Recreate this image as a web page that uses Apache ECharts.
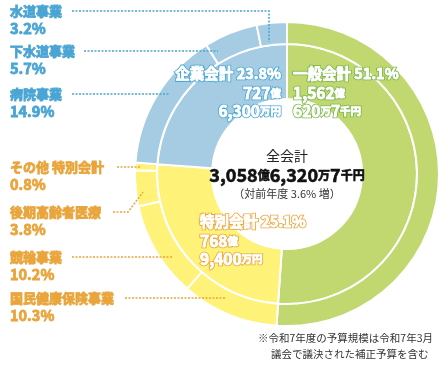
<!DOCTYPE html>
<html><head><meta charset="utf-8">
<script src="https://cdn.jsdelivr.net/npm/echarts@6/dist/echarts.min.js"></script>
<style>html,body{margin:0;padding:0;background:#fff}#c{width:445px;height:366px}</style>
</head><body><div id="c"></div>
<script>
// ---- data ----
var mainNames = ['一般会計', '特別会計', '企業会計'];
var mainPercents = [51.1, 25.1, 23.8];
var mainOku = ['1,562', '768', '727'];
var mainMan = [['620', '万', '7', '千円'], ['9,400', '万円'], ['6,300', '万円']];
var subNames = ['一般会計', '国民健康保険事業', '競輪事業', '後期高齢者医療', 'その他 特別会計', '病院事業', '下水道事業', '水道事業'];
var subPercents = [51.1, 10.3, 10.2, 3.8, 0.8, 14.9, 5.7, 3.2];
var subGroup = [0, 1, 1, 1, 1, 2, 2, 2];
var totalParts = ['3,058', '億', '6,320', '万', '7', '千円'];
var changeText = '（対前年度 3.6% 増）';
var noteLines = ['※令和7年度の予算規模は令和7年3月', '議会で議決された補正予算を含む'];

var fills = ['#c1d871', '#fef278', '#a5cce3'];
var textCols = ['#7ab648', '#e9a53c', '#4aa5d4'];
var FONT = '"Noto Sans CJK JP", "Noto Sans", sans-serif';
var C = [287, 174];

var chart = echarts.init(document.getElementById('c'), null, {renderer: 'canvas'});

var graphics = [];
function txt(x, y, text, opt) {
  var s = Object.assign({x: x, y: y, text: text, fontFamily: FONT, fontSize: 13, fontWeight: 'bold',
    textVerticalAlign: 'middle', textAlign: 'left', fill: '#333'}, opt || {});
  graphics.push({type: 'text', z: 10, style: s});
}
function dots(points, color) {
  graphics.push({type: 'polyline', z: 5, shape: {points: points},
    style: {stroke: color, lineWidth: 1.5, lineDash: [2, 1.5], fill: null}});
}

// left labels: [subIndex, nameY, lead points]
var leftLabels = [
  [7, 11, [[72, 11], [269, 11], [269, 42]]],
  [6, 51, [[84, 51], [218, 51]]],
  [5, 94, [[72, 94], [169, 94]]],
  [4, 167, [[117, 167], [141, 167]]],
  [3, 212, [[113, 212], [128, 212], [143, 192]]],
  [2, 257, [[72, 257], [173, 257]]],
  [1, 298, [[125, 298], [226, 298]]]
];
leftLabels.forEach(function (L) {
  var i = L[0], col = textCols[subGroup[i]];
  txt(10, L[1], subNames[i], {fill: col, stroke: col, lineWidth: 0.8});
  txt(10, L[1] + 17, subPercents[i].toFixed(1) + '%', {fill: col, stroke: col, lineWidth: 0.8, fontSize: 14.5});
  dots(L[2], col);
});

// in-ring labels: coloured outline layer underneath, white fill layer on top
function outlined(x, y, align, text, rich, fontSize, col) {
  [[col, col, 2.6, 10], ['#fff', '#fff', 0.9, 11]].forEach(function (layer) {
    var st = {x: x, y: y, textAlign: align, textVerticalAlign: 'middle', text: text,
      fontFamily: FONT, fontSize: fontSize, fontWeight: 'bold', fill: layer[0],
      stroke: layer[1], lineWidth: layer[2]};
    if (rich) st.rich = rich;
    graphics.push({type: 'text', z: layer[3], style: st});
  });
}
function ringLabel(g, x, y, align) {
  var col = textCols[g];
  var rich = {a: {fontSize: 15.5, fontWeight: 'bold', fontFamily: FONT},
              b: {fontSize: 10.5, fontWeight: 'bold', fontFamily: FONT}};
  outlined(x, y, align, mainNames[g] + ' ' + mainPercents[g].toFixed(1) + '%', null, 14.5, col);
  outlined(x, y + 20, align, '{a|' + mainOku[g] + '}{b|億}', rich, 14, col);
  var m = mainMan[g], t = '';
  for (var k = 0; k < m.length; k++) t += (k % 2 === 0 ? '{a|' : '{b|') + m[k] + '}';
  outlined(x, y + 38, align, t, rich, 14, col);
}
ringLabel(2, 281, 73, 'right');
ringLabel(0, 293, 73, 'left');
ringLabel(1, 200, 221, 'left');

// centre
txt(C[0], 156, '全会計', {textAlign: 'center', fontWeight: 'normal', fontSize: 14, fill: '#222'});
var tt = '';
for (var k = 0; k < totalParts.length; k++) tt += (/[0-9]/.test(totalParts[k]) ? '{n|' : '{u|') + totalParts[k] + '}';
graphics.push({type: 'text', z: 10, style: {x: C[0], y: 175, textAlign: 'center', textVerticalAlign: 'middle', text: tt,
  fill: '#111', stroke: '#111', lineWidth: 0.6,
  rich: {n: {fontSize: 18, fontWeight: 'bold', fontFamily: FONT}, u: {fontSize: 12, fontWeight: 'bold', fontFamily: FONT}}}});
txt(C[0], 194, changeText, {textAlign: 'center', fontWeight: 'normal', fontSize: 11, fill: '#333'});

// note
txt(258, 338, noteLines[0], {fontWeight: 'normal', fontSize: 10.5, fill: '#333'});
txt(271, 354, noteLines[1], {fontWeight: 'normal', fontSize: 10.5, fill: '#333'});

chart.setOption({
  animation: false,
  series: [
    {type: 'pie', center: C, radius: [75, 130], startAngle: 90, clockwise: true, silent: true,
      label: {show: false}, labelLine: {show: false},
      itemStyle: {borderColor: '#fff', borderWidth: 2},
      data: mainNames.map(function (n, i) { return {name: n, value: mainPercents[i], itemStyle: {color: fills[i]}}; })},
    {type: 'pie', center: C, radius: [130, 152], startAngle: 90, clockwise: true, silent: true,
      label: {show: false}, labelLine: {show: false},
      itemStyle: {borderColor: '#fff', borderWidth: 2},
      data: subNames.map(function (n, i) { return {name: n, value: subPercents[i], itemStyle: {color: fills[subGroup[i]]}}; })}
  ],
  graphic: graphics
});
</script></body></html>
